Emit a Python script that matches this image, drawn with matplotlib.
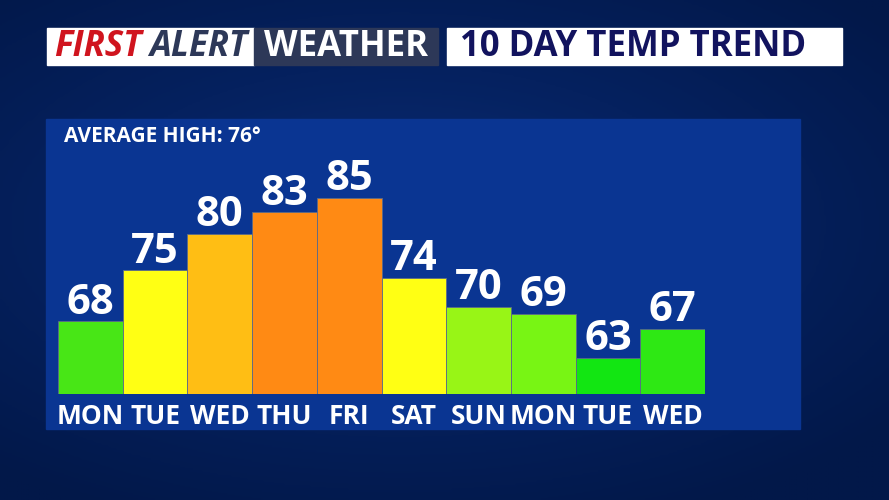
import numpy as np
import matplotlib
matplotlib.use("Agg")
import matplotlib.pyplot as plt
from matplotlib.patches import Rectangle
from matplotlib.colors import LinearSegmentedColormap

days = ["MON", "TUE", "WED", "THU", "FRI", "SAT", "SUN", "MON", "TUE", "WED"]
temps = [68, 75, 80, 83, 85, 74, 70, 69, 63, 67]
colors = ["#48e616", "#ffff14", "#ffbe14", "#ff8a14", "#ff8a14",
          "#ffff14", "#98f516", "#78f514", "#12e612", "#2ee814"]
avg_high = 76
y_base = 58

FONT = "Open Sans"
W, H = 889, 500

fig = plt.figure(figsize=(W / 100, H / 100), dpi=100)

# background: dark blue, slightly lighter in the middle
bg = fig.add_axes([0, 0, 1, 1])
yy, xx = np.mgrid[0:1:200j, 0:1:360j]
r = np.sqrt(((xx - 0.45) / 0.9) ** 2 + ((yy - 0.45) / 0.8) ** 2)
cmap = LinearSegmentedColormap.from_list("bg", ["#0a2d74", "#05215f", "#021849"])
bg.imshow(r, cmap=cmap, aspect="auto", extent=[0, 1, 0, 1], vmin=0, vmax=0.8)
bg.set_xlim(0, 1)
bg.set_ylim(0, 1)
bg.axis("off")

def fx(px):
    return px / W

def fy(py):
    return 1 - py / H

# header strip
bg.add_patch(Rectangle((fx(47), fy(65)), fx(254) - fx(47), fy(28) - fy(65), color="white"))
bg.add_patch(Rectangle((fx(254), fy(65)), fx(438) - fx(254), fy(28) - fy(65), color="#2d3858"))
bg.add_patch(Rectangle((fx(447), fy(65)), fx(842) - fx(447), fy(28) - fy(65), color="white"))
ty = fy(47)
bg.text(fx(54), ty, "FIRST", color="#d0141e", fontsize=25, fontweight="bold",
        style="italic", family=FONT, va="center", ha="left")
bg.text(fx(149), ty, "ALERT", color="#2d3858", fontsize=25, fontweight="bold",
        style="italic", family=FONT, va="center", ha="left")
bg.text(fx(346), ty, "WEATHER", color="white", fontsize=25, fontweight="bold",
        family=FONT, va="center", ha="center")
bg.text(fx(633), ty, "10 DAY TEMP TREND", color="#12135e", fontsize=25, fontweight="bold",
        family=FONT, va="center", ha="center")

# chart panel
bg.add_patch(Rectangle((fx(46), fy(429)), fx(800) - fx(46), fy(119) - fy(429), color="#0a3592"))
bg.text(fx(64), fy(136), f"AVERAGE HIGH: {avg_high}\u00b0", color="white", fontsize=15,
        fontweight="bold", family=FONT, va="center", ha="left")

# bars
ax = fig.add_axes([fx(58), fy(394), fx(705) - fx(58), fy(119) - fy(394)])
ax.patch.set_alpha(0)
x = np.arange(len(days))
ax.bar(x, [t - y_base for t in temps], bottom=y_base, width=1.0, color=colors,
       edgecolor="#5a6a8a", linewidth=0.6)
ax.set_xlim(-0.5, len(days) - 0.5)
ax.set_ylim(y_base, y_base + 275 / 7.27)
ax.axis("off")

for i, t in enumerate(temps):
    ax.annotate(str(t), (i, t), xytext=(0, 5.5), textcoords="offset points",
                ha="center", va="baseline", color="white", fontsize=30,
                fontweight="bold", family=FONT)
    ax.annotate(days[i], (i, y_base), xytext=(0, -21.6), textcoords="offset points",
                ha="center", va="baseline", color="white", fontsize=19,
                fontweight="bold", family=FONT, annotation_clip=False)

fig.savefig("out.png", dpi=100)
